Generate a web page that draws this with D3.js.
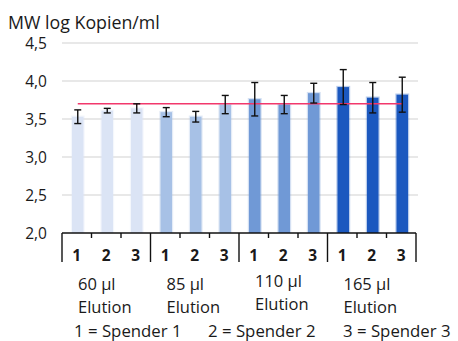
<!DOCTYPE html>
<html>
<head>
<meta charset="utf-8">
<script src="https://cdn.jsdelivr.net/npm/d3@7/dist/d3.min.js"></script>
<style>
  html, body { margin: 0; padding: 0; background: #fff; }
  svg { display: block; }
  text { font-family: "Open Sans", "Liberation Sans", sans-serif; fill: #1a1a1a; }
</style>
</head>
<body>
<svg id="chart" width="458" height="341"></svg>
<script>
// Mean log copies/ml per donor for each elution volume
const groups = ["60 µl", "85 µl", "110 µl", "165 µl"];
const donors = ["1", "2", "3"];
const means = [
  [3.53, 3.61, 3.64],
  [3.59, 3.53, 3.69],
  [3.76, 3.69, 3.84],
  [3.92, 3.78, 3.82]
];
const errors = [
  [0.09, 0.03, 0.06],
  [0.06, 0.07, 0.12],
  [0.22, 0.12, 0.13],
  [0.23, 0.20, 0.23]
];
const reference = 3.70;
const yTicks = [2.0, 2.5, 3.0, 3.5, 4.0, 4.5];
const groupColors = ["#dbe4f5", "#a7c1e6", "#7099d6", "#1b58bf"];
const legendItems = ["1 = Spender 1", "2 = Spender 2", "3 = Spender 3"];

const svg = d3.select("#chart");
const plotLeft = 62, plotRight = 416, plotTop = 43, plotBottom = 233;

const y = d3.scaleLinear().domain([2.0, 4.5]).range([plotBottom, plotTop]);
const xGroup = d3.scaleBand().domain(groups).range([plotLeft, plotRight]).padding(0);
const xBar = d3.scaleBand().domain(donors).range([0, xGroup.bandwidth()]).padding(0);
const barW = 11.5;
const cx = (g, d) => xGroup(groups[g]) + xBar(donors[d]) + xBar.bandwidth() / 2 + 1;

// grid lines
svg.append("g").selectAll("line").data(yTicks.slice(1)).join("line")
  .attr("x1", plotLeft).attr("x2", plotRight + 2)
  .attr("y1", d => y(d)).attr("y2", d => y(d))
  .attr("stroke", "#e1e1e1").attr("stroke-width", 1.6);

// y tick labels
svg.append("g").selectAll("text").data(yTicks).join("text")
  .attr("x", 47).attr("y", d => y(d)).attr("dy", "0.36em")
  .attr("text-anchor", "end").attr("font-size", 15.5)
  .text(d => d3.format(".1f")(d).replace(".", ","));

// title
svg.append("text").attr("x", 8).attr("y", 28.5).attr("font-size", 17.8)
  .text("MW log Kopien/ml");

// bars
const flat = [];
means.forEach((row, g) => row.forEach((v, d) => flat.push({ g, d, v, e: errors[g][d] })));

const bars = svg.append("g");
bars.selectAll("rect.halo").data(flat).join("rect").attr("class", "halo")
  .attr("x", p => cx(p.g, p.d) - barW / 2 - 1.2)
  .attr("width", barW + 2.4)
  .attr("y", p => y(p.v) - 1.2)
  .attr("height", p => plotBottom - y(p.v) + 1.2)
  .attr("fill", p => groupColors[p.g]).attr("opacity", 0.3);
bars.selectAll("rect.bar").data(flat).join("rect").attr("class", "bar")
  .attr("x", p => cx(p.g, p.d) - barW / 2)
  .attr("width", barW)
  .attr("y", p => y(p.v))
  .attr("height", p => plotBottom - y(p.v))
  .attr("fill", p => groupColors[p.g]);

// reference line
svg.append("line")
  .attr("x1", cx(0, 0)).attr("x2", cx(3, 2))
  .attr("y1", y(reference)).attr("y2", y(reference))
  .attr("stroke", "#f2386c").attr("stroke-width", 1.6);

// error bars
const eb = svg.append("g").attr("stroke", "#111").attr("stroke-width", 1.4);
flat.forEach(p => {
  const x0 = cx(p.g, p.d);
  eb.append("line").attr("x1", x0).attr("x2", x0)
    .attr("y1", y(p.v + p.e)).attr("y2", y(p.v - p.e));
  [p.v + p.e, p.v - p.e].forEach(v => eb.append("line")
    .attr("x1", x0 - 3.5).attr("x2", x0 + 3.5)
    .attr("y1", y(v)).attr("y2", y(v)));
});

// x axis line and ticks
const axis = svg.append("g").attr("stroke", "#111").attr("stroke-width", 1.4);
axis.append("line").attr("x1", plotLeft).attr("x2", plotRight).attr("y1", plotBottom).attr("y2", plotBottom);
const groupEdges = groups.map(g => xGroup(g)).concat([plotRight]);
groupEdges.forEach(x0 => axis.append("line")
  .attr("x1", x0).attr("x2", x0).attr("y1", plotBottom).attr("y2", 262));
groups.forEach(g => [1, 2].forEach(i => {
  const x0 = xGroup(g) + xBar.step() * i;
  axis.append("line").attr("x1", x0).attr("x2", x0).attr("y1", plotBottom).attr("y2", 238);
}));

// donor numbers
svg.append("g").selectAll("text").data(flat).join("text")
  .attr("x", p => xGroup(groups[p.g]) + xBar(donors[p.d]) + xBar.bandwidth() / 2)
  .attr("y", 261).attr("text-anchor", "middle")
  .attr("font-size", 15.5).attr("font-weight", "bold")
  .text(p => donors[p.d]);

// group labels
const labelOffsets = [0, 0, -3, 0];
groups.forEach((g, i) => {
  const t = svg.append("text").attr("x", xGroup(g) + 16)
    .attr("y", 290 + labelOffsets[i]).attr("font-size", 16.5);
  t.append("tspan").text(g);
  t.append("tspan").attr("x", xGroup(g) + 16).attr("dy", 23).text("Elution");
});

// donor legend
const legendX = [74, 208, 343];
svg.append("g").selectAll("text").data(legendItems).join("text")
  .attr("x", (d, i) => legendX[i]).attr("y", 337).attr("font-size", 16.8)
  .text(d => d);
</script>
</body>
</html>
